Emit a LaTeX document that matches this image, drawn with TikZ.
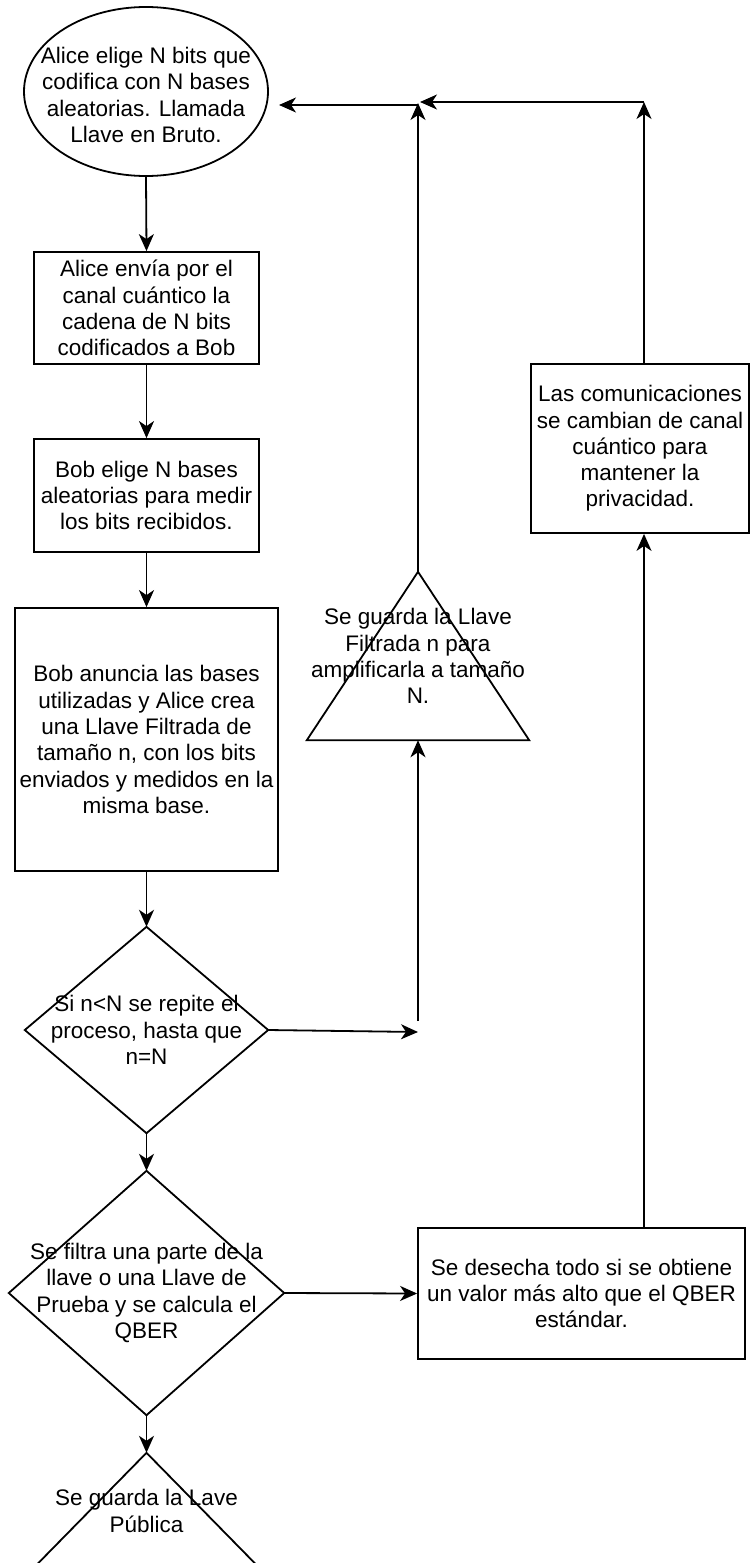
\documentclass[tikz,border=0pt]{standalone}
\usepackage{fontspec}
\setmainfont{Liberation Sans}
\usetikzlibrary{arrows.meta}
\tikzset{
  x=1pt, y=-1pt,
  every node/.style={font=\fontsize{22.5}{26.3}\selectfont, align=center, inner sep=0pt},
  shp/.style={line width=1.8pt, draw=black, line join=miter},
  boxn/.style={shp, rectangle},
  ghost/.style={rectangle},
  arr/.style={line width=1.8pt, -{Stealth[length=17pt, width=15pt, inset=5pt]}},
  ln/.style={line width=1.8pt},
}
\begin{document}
\begin{tikzpicture}
\useasboundingbox (0,0) rectangle (750,1563);
\begin{scope}
\clip (0,0) rectangle (750,1563);
% ellipse start
\node[ghost, minimum width=244pt, minimum height=169pt] (ell) at (146,91.5) {};
\node[ghost] (ellt) at (146,95)
  {Alice elige N bits que\\codifica con N bases\\aleatorias. Llamada\\Llave en Bruto.};
\draw[shp] (ell.center) ellipse [x radius=122pt, y radius=84.5pt];

\node[boxn, minimum width=225pt, minimum height=112pt] (b1) at (146.5,308)
  {Alice envía por el\\canal cuántico la\\cadena de N bits\\codificados a Bob};
\node[boxn, minimum width=225pt, minimum height=113pt] (b2) at (146.5,495.5)
  {Bob elige N bases\\aleatorias para medir\\los bits recibidos.};
\node[boxn, minimum width=263pt, minimum height=263pt] (b3) at (146.5,739.5)
  {Bob anuncia las bases\\utilizadas y Alice crea\\una Llave Filtrada de\\tamaño n, con los bits\\enviados y medidos en la\\misma base.};

% diamond 1
\node[ghost, minimum width=243pt, minimum height=206pt] (d1) at (146.5,1030)
  {Si n<N se repite el\\proceso, hasta que\\n=N};
\draw[shp] (d1.north) -- (d1.east) -- (d1.south) -- (d1.west) -- cycle;

% diamond 2
\node[ghost, minimum width=275pt, minimum height=244pt] (d2) at (146.5,1293)
  {Se filtra una parte de la\\llave o una Llave de\\Prueba y se calcula el\\QBER};
\draw[shp] (d2.north) -- (d2.east) -- (d2.south) -- (d2.west) -- cycle;

% bottom triangle
\node[ghost, minimum width=228pt, minimum height=116pt] (t2) at (146.5,1511)
  {Se guarda la Lave\\Pública};
\draw[shp] (t2.south west) -- (t2.north) -- (t2.south east) -- cycle;

% middle triangle
\node[ghost, minimum width=222pt, minimum height=168pt] (t1) at (418,656)
  {Se guarda la Llave\\Filtrada n para\\amplificarla a tamaño\\N.};
\draw[shp] (t1.south west) -- (t1.north) -- (t1.south east) -- cycle;

% right boxes
\node[boxn, minimum width=218pt, minimum height=169pt] (rb) at (640,448.5)
  {Las comunicaciones\\se cambian de canal\\cuántico para\\mantener la\\privacidad.};
\node[boxn, minimum width=327pt, minimum height=131pt] (q) at (581.5,1293.5)
  {Se desecha todo si se obtiene\\un valor más alto que el QBER\\estándar.};

% free-end coordinates
\coordinate (c1) at (418,1032);
\coordinate (c2) at (418,1021);
\coordinate (cM) at (418,103);
\coordinate (cL0) at (418,105);
\coordinate (cL) at (279,105);
\coordinate (cR) at (644,102);
\coordinate (cT) at (420,102);

% connectors
\draw[arr] (ell.south) -- (b1.north);
\draw[arr] (b1.south) -- (b2.north);
\draw[arr] (b2.south) -- (b3.north);
\draw[arr] (b3.south) -- (d1.north);
\draw[arr] (d1.south) -- (d2.north);
\draw[arr] (d2.south) -- (t2.north);
\draw[arr] (d1.east) -- (c1);
\draw[arr] (c2) -- (t1.south);
\draw[arr] (t1.north) -- (cM);
\draw[arr] (cL0) -- (cL);
\draw[arr] (cR |- rb.north) -- (cR);
\draw[arr] (cR) -- (cT);
\draw[arr] (q.north -| cR) -- (rb.south -| cR);
\draw[arr] (d2.east) -- (q.west);
\end{scope}
\end{tikzpicture}
\end{document}
